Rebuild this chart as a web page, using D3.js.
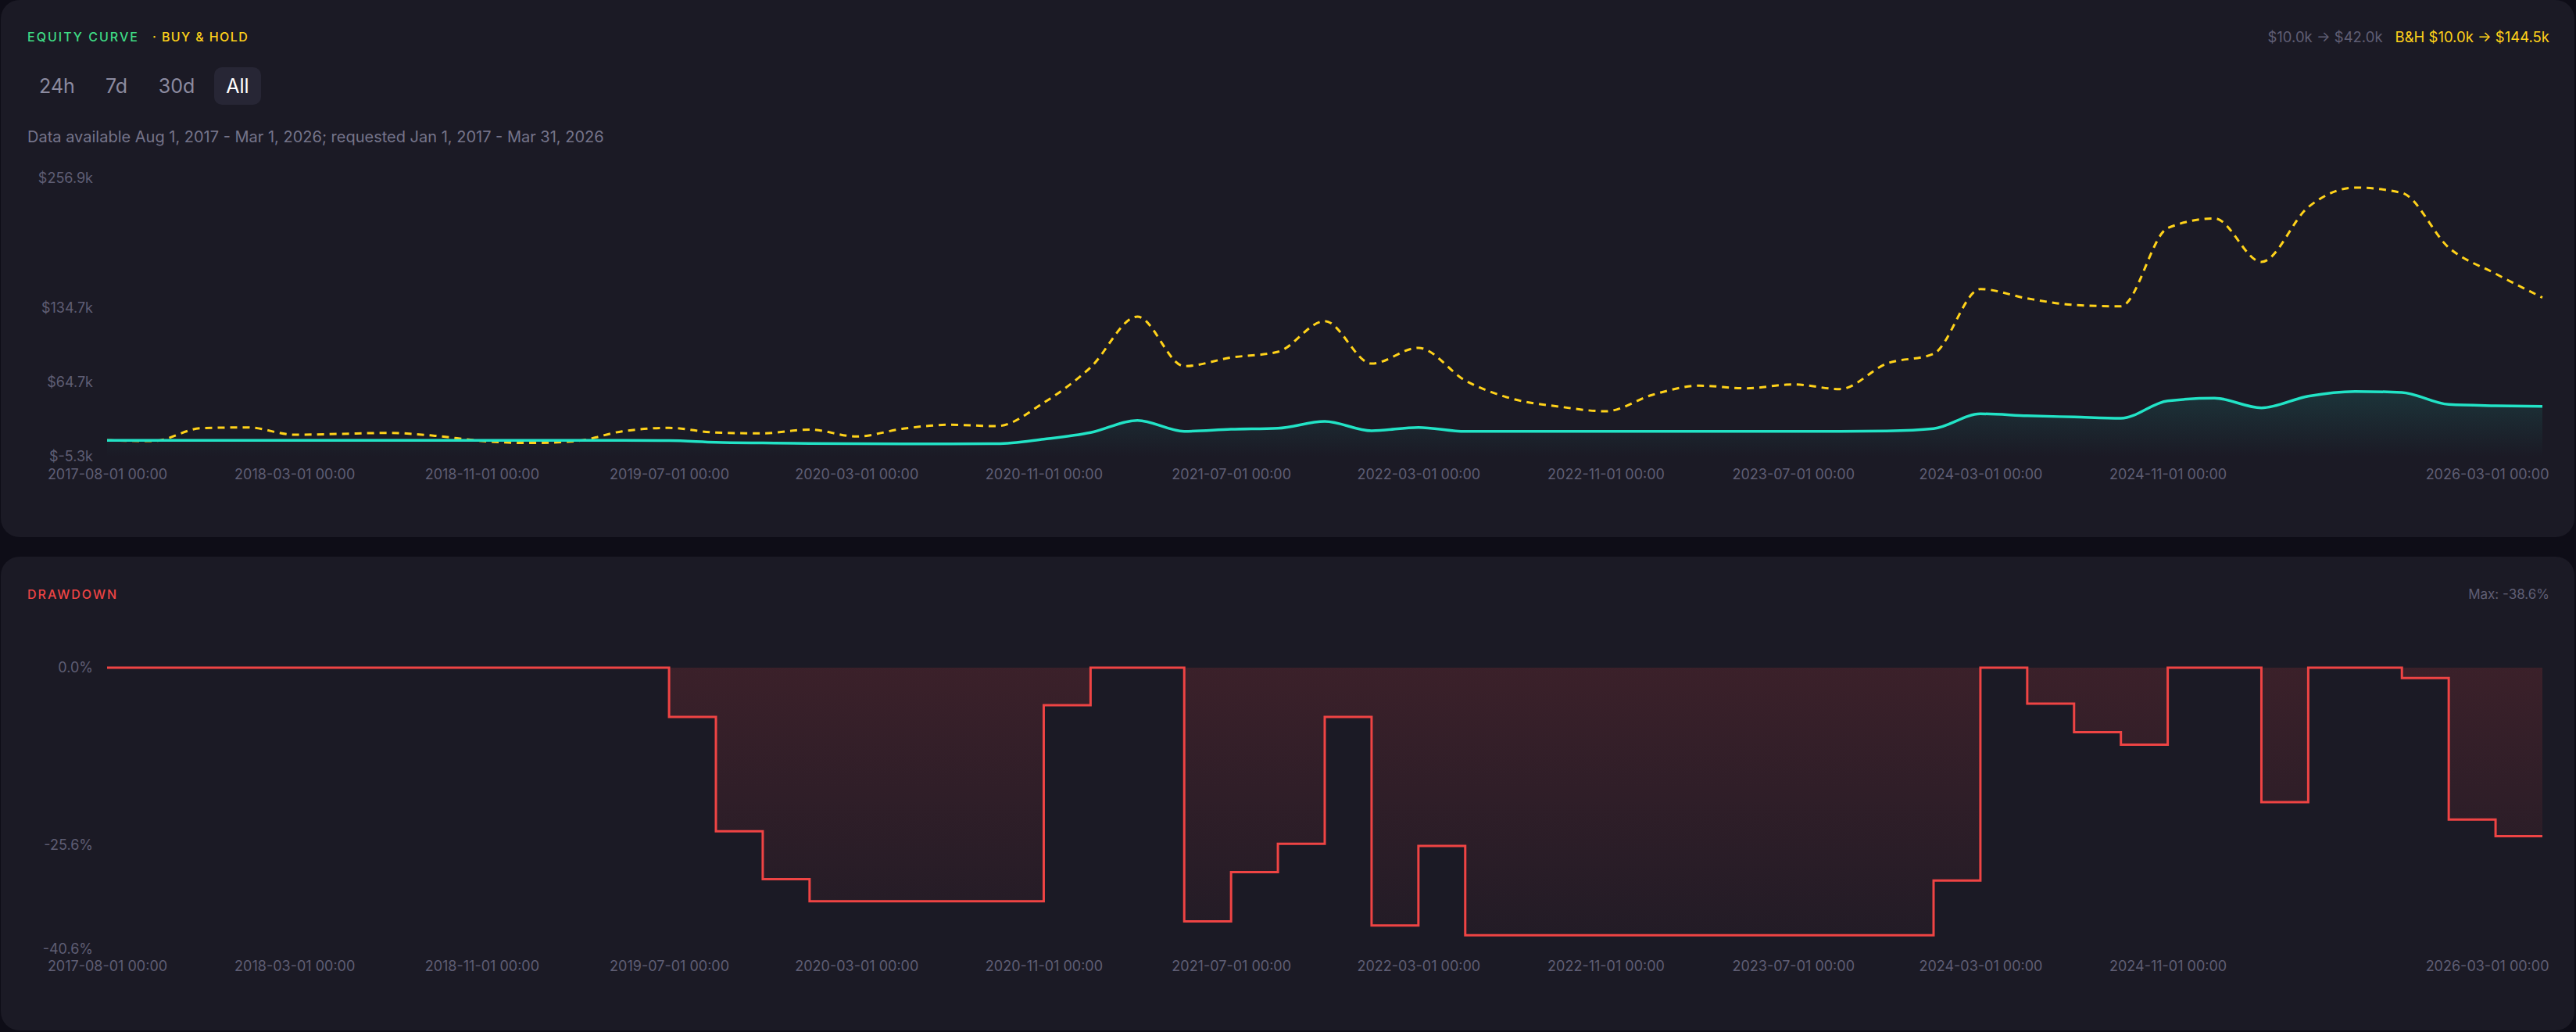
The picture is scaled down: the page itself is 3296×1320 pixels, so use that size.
<!DOCTYPE html>
<html>
<head>
<meta charset="utf-8">
<script src="https://cdn.jsdelivr.net/npm/d3@7"></script>
<style>
  html, body { margin: 0; padding: 0; background: #0e0d17; }
  svg { display: block; font-family: Inter, "Noto Sans", sans-serif; }
</style>
</head>
<body>
<svg id="chart" width="3296" height="1320"></svg>
<script>
// sample dates (one point roughly every two months)
const dates = [
  "2017-08-01", "2017-09-01", "2017-11-01",
  "2018-01-01", "2018-03-01", "2018-05-01", "2018-07-01", "2018-09-01", "2018-11-01",
  "2019-01-01", "2019-03-01", "2019-05-01", "2019-07-01", "2019-09-01", "2019-11-01",
  "2020-01-01", "2020-03-01", "2020-05-01", "2020-07-01", "2020-09-01", "2020-11-01",
  "2021-01-01", "2021-03-01", "2021-05-01", "2021-07-01", "2021-09-01", "2021-11-01",
  "2022-01-01", "2022-03-01", "2022-05-01", "2022-07-01", "2022-09-01", "2022-11-01",
  "2023-01-01", "2023-03-01", "2023-05-01", "2023-07-01", "2023-09-01", "2023-11-01",
  "2024-01-01", "2024-03-01", "2024-05-01", "2024-07-01", "2024-09-01", "2024-11-01",
  "2025-01-01", "2025-03-01", "2025-05-01", "2025-07-01", "2025-09-01", "2025-11-01",
  "2026-01-01", "2026-03-01"
];

// strategy equity, $k
const equity = [
  10.0, 10.0, 10.0, 10.0, 10.0, 10.0, 10.0, 10.0, 10.0, 10.0, 10.0, 10.0,
  9.8, 8.2, 7.5, 7.0, 6.8, 6.7, 6.7, 6.8,
  11.1, 17.3, 28.8, 18.5, 20.4, 21.4, 27.8, 19.0, 22.2,
  18.4, 18.4, 18.4, 18.4, 18.4, 18.4, 18.4, 18.4, 18.4, 18.8,
  21.0, 35.0, 33.2, 32.0, 30.8, 47.2, 49.7, 40.6, 51.6, 56.1, 55.1, 43.8, 42.6, 42.0
];

// buy & hold equity, $k
const buyHold = [
  10.0, 9.4, 21.4, 22.2, 15.3, 16.1, 17.0, 14.3, 9.4, 7.5, 9.2, 18.5,
  21.7, 17.3, 16.6, 20.2, 13.6, 21.0, 24.7, 23.4,
  45.5, 78.7, 126.5, 79.9, 88.0, 93.4, 122.3, 82.3, 97.1,
  66.4, 49.2, 41.8, 37.4, 52.9, 61.5, 59.0, 62.7, 58.3, 82.3,
  91.5, 152.5, 143.7, 137.6, 136.3, 210.0, 219.1, 178.1, 229.7, 248.1, 243.1, 191.6, 167.0, 144.5
];

// drawdown, %
const drawdown = [
  0, 0, 0, 0, 0, 0, 0, 0, 0, 0, 0, 0,
  -7.1, -23.6, -30.5, -33.7, -33.7, -33.7, -33.7, -33.7,
  -5.4, 0, 0, -36.6, -29.5, -25.4, -7.1, -37.2, -25.7,
  -38.6, -38.6, -38.6, -38.6, -38.6, -38.6, -38.6, -38.6, -38.6, -38.6,
  -30.7, 0, -5.2, -9.3, -11.1, 0, 0, -19.4, 0, 0, -1.5, -21.9, -24.3, -24.3
];

// x tick labels (2025-07-01 is dropped by the chart, it would collide)
const xTickDates = ["2017-08-01", "2018-03-01", "2018-11-01", "2019-07-01", "2020-03-01",
  "2020-11-01", "2021-07-01", "2022-03-01", "2022-11-01", "2023-07-01", "2024-03-01",
  "2024-11-01", "2026-03-01"];
const equityTicks = [-5.3, 64.7, 134.7, 256.9];
const equityDomain = [-5.3, 256.9];
const ddTicks = [0, -25.6, -40.6];
const ddDomain = [-40.6, 0];
const ranges = ["24h", "7d", "30d", "All"];

const svg = d3.select("#chart");
const C = {
  panel: "#1b1a25",
  axis: "#5f5e74",
  muted: "#75748a",
  teal: "#22e3c6",
  gold: "#ffd21a",
  red: "#ef4444",
  green: "#3fdd85"
};

// panels
svg.append("rect").attr("x", 1).attr("y", 0).attr("width", 3293).attr("height", 687)
  .attr("rx", 24).attr("fill", C.panel);
svg.append("rect").attr("x", 1).attr("y", 712).attr("width", 3293).attr("height", 606)
  .attr("rx", 24).attr("fill", C.panel);

const defs = svg.append("defs");
const tg = defs.append("linearGradient").attr("id", "tealFill").attr("x1", 0).attr("y1", 0).attr("x2", 0).attr("y2", 1);
tg.append("stop").attr("offset", "0%").attr("stop-color", C.teal).attr("stop-opacity", 0.13);
tg.append("stop").attr("offset", "100%").attr("stop-color", C.teal).attr("stop-opacity", 0);
const rg = defs.append("linearGradient").attr("id", "redFill").attr("x1", 0).attr("x2", 0)
  .attr("gradientUnits", "userSpaceOnUse").attr("y1", 854).attr("y2", 1214);
rg.append("stop").attr("offset", "0%").attr("stop-color", C.red).attr("stop-opacity", 0.15);
rg.append("stop").attr("offset", "100%").attr("stop-color", C.red).attr("stop-opacity", 0.03);

// shared x
const x = d3.scalePoint().domain(dates).range([137, 3253]);

function xAxis(g, y) {
  g.attr("transform", `translate(0,${y})`)
    .call(d3.axisBottom(x).tickValues(xTickDates).tickSize(0).tickPadding(0)
      .tickFormat(d => d + " 00:00"));
  g.select(".domain").remove();
  g.selectAll("text").attr("fill", C.axis).attr("font-size", 18).attr("dy", "0.35em")
    .attr("font-family", "Inter, sans-serif");
  g.selectAll(".tick").filter(d => d === dates[dates.length - 1])
    .select("text").attr("text-anchor", "end").attr("x", 8);
}

// ---------- equity panel ----------
svg.append("text").attr("x", 35).attr("y", 47).attr("dy", "0.35em")
  .attr("font-size", 16).attr("font-weight", 500).attr("letter-spacing", 2)
  .attr("fill", C.green).text("EQUITY CURVE");
svg.append("text").attr("x", 195).attr("y", 47).attr("dy", "0.35em")
  .attr("font-size", 16).attr("font-weight", 500).attr("letter-spacing", 1.4)
  .attr("fill", C.gold).text("· BUY & HOLD");

const rightHead = svg.append("text").attr("x", 3262).attr("y", 48).attr("dy", "0.35em")
  .attr("text-anchor", "end").attr("font-size", 18.5);
rightHead.append("tspan").attr("fill", C.axis).text(`$${equity[0].toFixed(1)}k → $${equity[equity.length - 1].toFixed(1)}k`);
rightHead.append("tspan").attr("dx", 16).attr("fill", C.gold)
  .text(`B&H $${buyHold[0].toFixed(1)}k → $${buyHold[buyHold.length - 1].toFixed(1)}k`);

// range buttons
const btnX = [73, 149, 226, 304];
ranges.forEach((r, i) => {
  if (r === "All") {
    svg.append("rect").attr("x", btnX[i] - 30).attr("y", 86).attr("width", 60).attr("height", 48)
      .attr("rx", 10).attr("fill", "#272635");
  }
  svg.append("text").attr("x", btnX[i]).attr("y", 110).attr("dy", "0.35em")
    .attr("text-anchor", "middle").attr("font-size", 25)
    .attr("fill", r === "All" ? "#ffffff" : "#8c8ba0").text(r);
});

svg.append("text").attr("x", 35).attr("y", 175).attr("dy", "0.35em")
  .attr("font-size", 20).attr("fill", C.muted)
  .text("Data available Aug 1, 2017 - Mar 1, 2026; requested Jan 1, 2017 - Mar 31, 2026");

const yEq = d3.scaleLinear().domain(equityDomain).range([584, 228]);
const gy = svg.append("g").attr("transform", "translate(137,0)")
  .call(d3.axisLeft(yEq).tickValues(equityTicks).tickSize(0).tickPadding(18)
    .tickFormat(d => `$${d.toFixed(1)}k`));
gy.select(".domain").remove();
gy.selectAll("text").attr("fill", C.axis).attr("font-size", 18).attr("font-family", "Inter, sans-serif");

xAxis(svg.append("g"), 607);

const eqArea = d3.area().x((d, i) => x(dates[i])).y0(yEq(equityDomain[0])).y1(d => yEq(d))
  .curve(d3.curveMonotoneX);
const eqLine = d3.line().x((d, i) => x(dates[i])).y(d => yEq(d)).curve(d3.curveMonotoneX);

svg.append("path").datum(equity).attr("d", eqArea).attr("fill", "url(#tealFill)");
svg.append("path").datum(buyHold).attr("d", eqLine).attr("fill", "none")
  .attr("stroke", C.gold).attr("stroke-width", 3).attr("stroke-dasharray", "9,7");
svg.append("path").datum(equity).attr("d", eqLine).attr("fill", "none")
  .attr("stroke", C.teal).attr("stroke-width", 3.5);

// ---------- drawdown panel ----------
svg.append("text").attr("x", 35).attr("y", 760).attr("dy", "0.35em")
  .attr("font-size", 16).attr("font-weight", 500).attr("letter-spacing", 2)
  .attr("fill", C.red).text("DRAWDOWN");
svg.append("text").attr("x", 3262).attr("y", 760).attr("dy", "0.35em")
  .attr("text-anchor", "end").attr("font-size", 17).attr("fill", C.axis)
  .text(`Max: ${d3.min(drawdown).toFixed(1)}%`);

const yDd = d3.scaleLinear().domain(ddDomain).range([1214, 854]);
const gdy = svg.append("g").attr("transform", "translate(137,0)")
  .call(d3.axisLeft(yDd).tickValues(ddTicks).tickSize(0).tickPadding(18)
    .tickFormat(d => `${d.toFixed(1)}%`));
gdy.select(".domain").remove();
gdy.selectAll("text").attr("fill", C.axis).attr("font-size", 18).attr("font-family", "Inter, sans-serif");

xAxis(svg.append("g"), 1236);

const ddArea = d3.area().x((d, i) => x(dates[i])).y0(yDd(0)).y1(d => yDd(d)).curve(d3.curveStepAfter);
const ddLine = d3.line().x((d, i) => x(dates[i])).y(d => yDd(d)).curve(d3.curveStepAfter);
svg.append("path").datum(drawdown).attr("d", ddArea).attr("fill", "url(#redFill)");
svg.append("path").datum(drawdown).attr("d", ddLine).attr("fill", "none")
  .attr("stroke", C.red).attr("stroke-width", 3);
</script>
</body>
</html>
